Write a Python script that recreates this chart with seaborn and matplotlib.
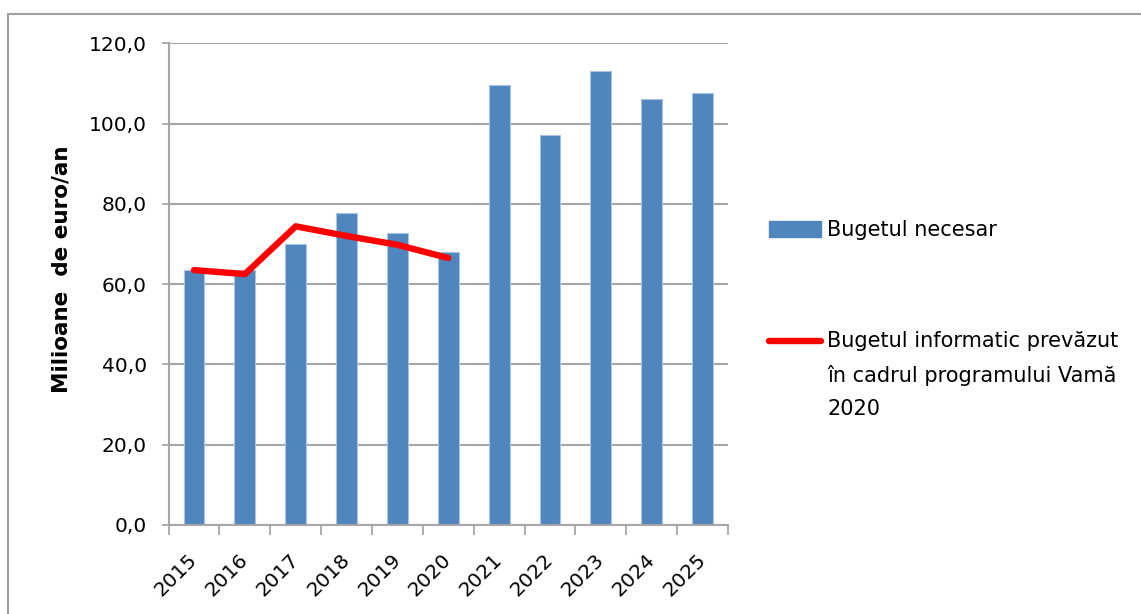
import matplotlib
matplotlib.use("Agg")
import matplotlib.pyplot as plt
import seaborn as sns
import numpy as np
import pandas as pd
from matplotlib.patches import Patch, Rectangle
from matplotlib.lines import Line2D
from matplotlib.ticker import FuncFormatter, FixedLocator

years = ["2015", "2016", "2017", "2018", "2019", "2020",
         "2021", "2022", "2023", "2024", "2025"]
needed = [63.5, 63.4, 69.9, 77.8, 72.8, 67.9, 109.7, 97.2, 113.2, 106.2, 107.7]
planned_years = ["2015", "2016", "2017", "2018", "2019", "2020"]
planned = [63.5, 62.5, 74.4, 72.0, 69.8, 66.5]

label_bar = "Bugetul necesar"
label_line = "Bugetul informatic prevăzut\nîn cadrul programului Vamă\n2020"
ylabel = "Milioane  de euro/an"
yticks = [0, 20, 40, 60, 80, 100, 120]

BAR = "#4F86BD"
RED = "#FF0000"
GRAY = "#A6A6A6"
FS_TICK = 14.5
FS_LEG = 15
FS_LAB = 15.5

sns.set_theme(style="white")
plt.rcParams["font.family"] = ["DejaVu Sans"]

fig = plt.figure(figsize=(11.41, 6.14), dpi=100)
ax = fig.add_axes([0.1478, 0.1450, 0.4902, 0.7845])

df_bar = pd.DataFrame({"year": years, "value": needed})
sns.barplot(data=df_bar, x="year", y="value", order=years, color=BAR,
            width=0.41, edgecolor="#A9C4E2", linewidth=0.8, saturation=1,
            ax=ax, zorder=2)

pos = {y: i for i, y in enumerate(years)}
df_line = pd.DataFrame({"x": [pos[y] for y in planned_years], "value": planned})
sns.lineplot(data=df_line, x="x", y="value", color=RED, linewidth=4.6,
             ax=ax, zorder=3, solid_capstyle="round", solid_joinstyle="round")

ax.set_xlim(-0.5, len(years) - 0.5)
ax.set_ylim(0, 120)
ax.set_yticks(yticks)
ax.yaxis.set_major_formatter(FuncFormatter(lambda v, p: f"{v:.1f}".replace(".", ",")))
ax.grid(axis="y", color=GRAY, linewidth=1.5, zorder=0)
ax.grid(axis="x", visible=False)
ax.set_axisbelow(True)

for s in ["top", "right"]:
    ax.spines[s].set_visible(False)
for s in ["left", "bottom"]:
    ax.spines[s].set_color(GRAY)
    ax.spines[s].set_linewidth(1.5)

ax.tick_params(axis="y", which="major", left=True, length=5.2, width=1.3,
               color=GRAY, labelsize=FS_TICK, pad=10.5, labelcolor="black")
ax.set_xticks(range(len(years)))
ax.set_xticklabels(years, rotation=45, ha="right", va="center",
                   rotation_mode="anchor", fontsize=FS_TICK)
ax.tick_params(axis="x", which="major", length=0, pad=23, labelcolor="black")
ax.xaxis.set_minor_locator(FixedLocator(np.arange(-0.5, len(years), 1.0)))
ax.tick_params(axis="x", which="minor", bottom=True, length=7.5, width=1.3,
               color=GRAY)

ax.set_xlabel("")
ax.set_ylabel(ylabel, fontsize=FS_LAB, fontweight="bold", va="center",
              color="black")
ax.yaxis.set_label_coords(-0.1917, 0.53)

handles = [Patch(facecolor=BAR, edgecolor=BAR),
           Line2D([0], [0], color=RED, linewidth=4.6, solid_capstyle="round")]
leg = fig.legend(handles, [label_bar, label_line], loc="upper left",
                 bbox_to_anchor=(0.674, 0.6409), frameon=False, fontsize=FS_LEG,
                 borderpad=0, borderaxespad=0, handlelength=2.5,
                 handleheight=0.77, handletextpad=0.29, labelspacing=4.35)
for t in leg.get_texts():
    t.set_color("black")
leg.get_texts()[1].set_linespacing(1.8)
# put the line handle beside the first line of its three-line label
pitch_pt = 24.5
lh = leg.legend_handles[1]
yd = np.asarray(lh.get_ydata(), dtype=float)
lh.set_ydata(yd + pitch_pt)

fig.patches.append(Rectangle((8 / 1141, -0.2), 1.2, 0.2 + (1 - 14 / 614),
                             transform=fig.transFigure, fill=False,
                             edgecolor="#A0A0A0", linewidth=1.5))

fig.savefig("out.png", dpi=100)
